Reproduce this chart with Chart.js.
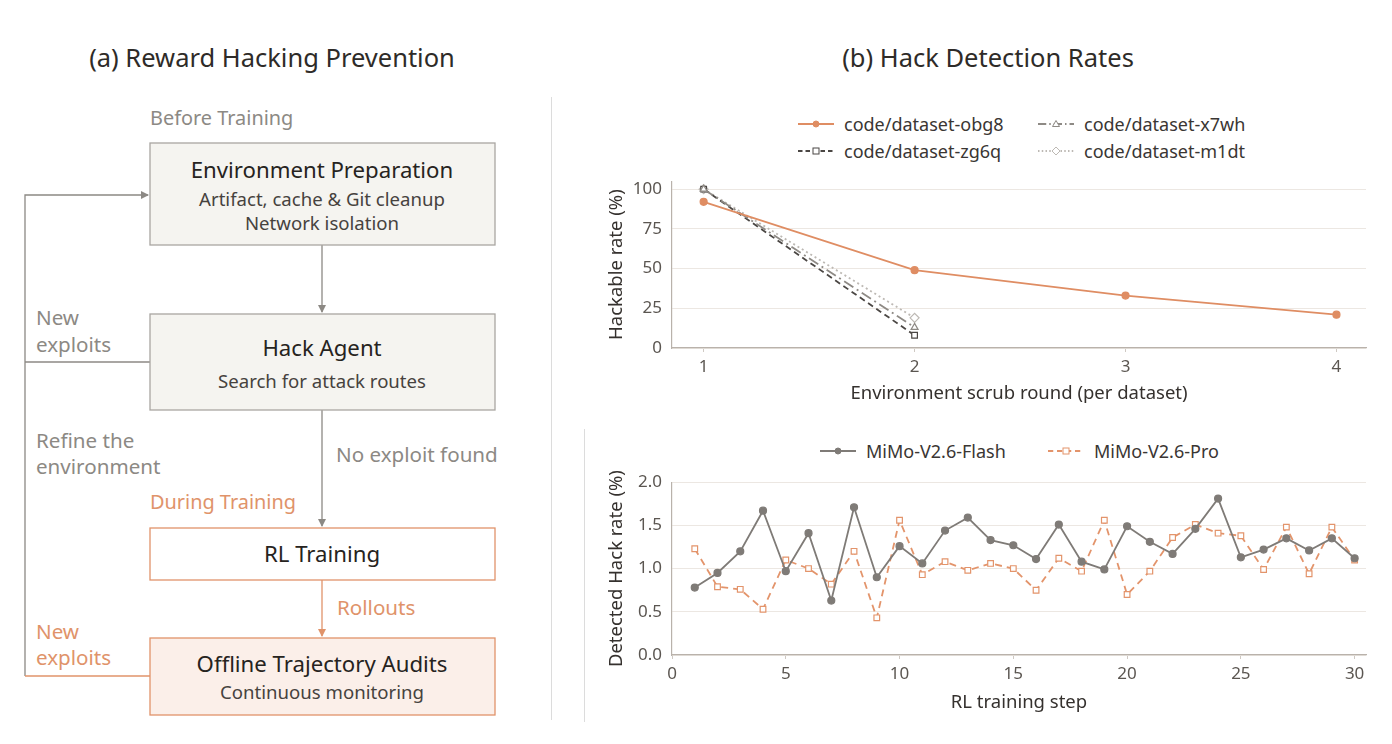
<!DOCTYPE html>
<html>
<head>
<meta charset="utf-8">
<script src="https://cdn.jsdelivr.net/npm/chart.js@4"></script>
<style>
  html, body { margin: 0; padding: 0; background: #fff; }
  body { width: 1392px; height: 744px; position: relative; overflow: hidden; font-family: "Noto Sans", sans-serif; }
  .title { position: absolute; top: 40px; font-size: 25.5px; color: #2e2b28; white-space: nowrap; transform: translateX(-50%); }
  .sep { position: absolute; width: 1px; background: #dcdcdc; }
  .chartbox { position: absolute; }
  .legend { position: absolute; font-size: 18px; color: #3a3633; }
  .legend .item { position: absolute; display: flex; align-items: center; white-space: nowrap; }
  .legend svg { margin-right: 10px; }
</style>
</head>
<body>
<div class="title" style="left:272px">(a) Reward Hacking Prevention</div>
<div class="title" style="left:988px">(b) Hack Detection Rates</div>
<div class="sep" style="left:551px; top:97px; height:623px"></div>
<div class="sep" style="left:584px; top:429px; height:293px"></div>

<!-- 流程图 -->
<svg id="flow" width="550" height="744" style="position:absolute;left:0;top:0" font-family="Noto Sans, sans-serif">
  <defs>
    <marker id="ag" markerWidth="8" markerHeight="8" refX="7" refY="4" orient="auto" markerUnits="userSpaceOnUse">
      <path d="M0,0 L8,4 L0,8 z" fill="#8c8984"/>
    </marker>
    <marker id="ao" markerWidth="8" markerHeight="8" refX="7" refY="4" orient="auto" markerUnits="userSpaceOnUse">
      <path d="M0,0 L8,4 L0,8 z" fill="#e0936a"/>
    </marker>
  </defs>
  <!-- 反馈回路 -->
  <polyline points="150,362 25,362" fill="none" stroke="#8c8984" stroke-width="1.3"/>
  <polyline points="25,676 25,195 148,195" fill="none" stroke="#8c8984" stroke-width="1.3" marker-end="url(#ag)"/>
  <polyline points="150,676 25,676" fill="none" stroke="#e0936a" stroke-width="1.3"/>
  <line x1="322" y1="245" x2="322" y2="312" stroke="#8c8984" stroke-width="1.3" marker-end="url(#ag)"/>
  <line x1="322" y1="410" x2="322" y2="526" stroke="#8c8984" stroke-width="1.3" marker-end="url(#ag)"/>
  <line x1="322" y1="580" x2="322" y2="636" stroke="#e0936a" stroke-width="1.3" marker-end="url(#ao)"/>

  <rect x="150" y="143" width="345" height="102" fill="#f5f4f0" stroke="#a9a6a1" stroke-width="1.3"/>
  <rect x="150" y="314" width="345" height="96" fill="#f5f4f0" stroke="#a9a6a1" stroke-width="1.3"/>
  <rect x="150" y="528" width="345" height="52" fill="#ffffff" stroke="#e0936a" stroke-width="1.3"/>
  <rect x="150" y="638" width="345" height="77" fill="#fbefe9" stroke="#e0936a" stroke-width="1.3"/>

  <g text-anchor="middle" fill="#262320">
    <text x="322" y="178" font-size="22.2">Environment Preparation</text>
    <text x="322" y="206" font-size="18.6" fill="#46423e">Artifact, cache &amp; Git cleanup</text>
    <text x="322" y="230" font-size="18.6" fill="#46423e">Network isolation</text>
    <text x="322" y="356" font-size="22.2">Hack Agent</text>
    <text x="322" y="388" font-size="18.6" fill="#46423e">Search for attack routes</text>
    <text x="322" y="562" font-size="22.2">RL Training</text>
    <text x="322" y="672" font-size="22.2">Offline Trajectory Audits</text>
    <text x="322" y="699" font-size="18.6" fill="#46423e">Continuous monitoring</text>
  </g>
  <g font-size="20.6" fill="#8c8984">
    <text x="150" y="125" font-size="19.9">Before Training</text>
    <text x="36" y="325">New</text>
    <text x="36" y="352">exploits</text>
    <text x="36" y="448">Refine the</text>
    <text x="36" y="474">environment</text>
    <text x="336" y="462">No exploit found</text>
  </g>
  <g font-size="20.6" fill="#e0936a">
    <text x="150" y="509" font-size="19.9">During Training</text>
    <text x="337" y="615">Rollouts</text>
    <text x="36" y="639">New</text>
    <text x="36" y="665">exploits</text>
  </g>
</svg>

<div class="legend" id="legendTop"></div>
<div class="chartbox" style="left:590px; top:161px; width:786px; height:244px;"><canvas id="scrubChart"></canvas></div>
<div class="legend" id="legendBottom"></div>
<div class="chartbox" style="left:590px; top:462px; width:786px; height:252px;"><canvas id="hackChart"></canvas></div>

<script>
// 数据
const scrubRounds = [1, 2, 3, 4];
const obg8 = [92, 49, 33, 21];
const x7wh = [100, 13];
const zg6q = [100, 8];
const m1dt = [100, 19];

const steps = [1, 2, 3, 4, 5, 6, 7, 8, 9, 10, 11, 12, 13, 14, 15, 16, 17, 18, 19, 20, 21, 22, 23, 24, 25, 26, 27, 28, 29, 30];
const flash = [0.78, 0.95, 1.2, 1.67, 0.97, 1.41, 0.63, 1.71, 0.9, 1.26, 1.06, 1.44, 1.59, 1.33, 1.27, 1.11, 1.51, 1.08, 0.99, 1.49, 1.31, 1.17, 1.46, 1.81, 1.13, 1.22, 1.35, 1.21, 1.35, 1.12];
const pro = [1.23, 0.79, 0.76, 0.53, 1.1, 1.0, 0.82, 1.2, 0.43, 1.56, 0.93, 1.08, 0.98, 1.06, 1.0, 0.75, 1.12, 0.97, 1.56, 0.7, 0.97, 1.36, 1.51, 1.41, 1.38, 0.99, 1.48, 0.94, 1.48, 1.1];

const scrubTicks = [1, 2, 3, 4];
const rateTicks = [0, 25, 50, 75, 100];
const stepTicks = [0, 5, 10, 15, 20, 25, 30];
const hackTicks = [0.0, 0.5, 1.0, 1.5, 2.0];

const ORANGE = "#df8d63";
const FONT = "Noto Sans";

function pts(xs, ys) {
  return ys.map((y, i) => ({ x: xs[i], y: y }));
}

const topSets = [
  { label: "code/dataset-obg8", data: pts(scrubRounds, obg8), borderColor: ORANGE, backgroundColor: ORANGE,
    borderDash: [], pointStyle: "circle", pointRadius: 3.5 },
  { label: "code/dataset-x7wh", data: pts(scrubRounds, x7wh), borderColor: "#8e8a85", backgroundColor: "#fff",
    borderDash: [11, 4, 2, 4], pointStyle: "triangle", pointRadius: 4 },
  { label: "code/dataset-zg6q", data: pts(scrubRounds, zg6q), borderColor: "#4b4744", backgroundColor: "#fff",
    borderDash: [6, 4], pointStyle: "rect", pointRadius: 4 },
  { label: "code/dataset-m1dt", data: pts(scrubRounds, m1dt), borderColor: "#bdb9b4", backgroundColor: "#fff",
    borderDash: [2, 3], pointStyle: "rectRot", pointRadius: 4.5 },
];
topSets.forEach(d => { d.borderWidth = 1.8; d.pointBorderColor = d.borderColor; d.pointBackgroundColor = d.backgroundColor; d.pointBorderWidth = 1.2; });

const bottomSets = [
  { label: "MiMo-V2.6-Flash", data: pts(steps, flash), borderColor: "#7f7b77", backgroundColor: "#7f7b77",
    borderDash: [], pointStyle: "circle", pointRadius: 3.5 },
  { label: "MiMo-V2.6-Pro", data: pts(steps, pro), borderColor: "#e3946b", backgroundColor: "#fff",
    borderDash: [7, 5], pointStyle: "rect", pointRadius: 4 },
];
bottomSets.forEach(d => { d.borderWidth = 1.8; d.pointBorderColor = d.borderColor; d.pointBackgroundColor = d.backgroundColor; d.pointBorderWidth = 1.2; });

// 图例
function legendIcon(d) {
  const c = d.borderColor;
  const dash = d.borderDash.length ? 'stroke-dasharray="' + d.borderDash.map(v => v * 0.75).join(" ") + '"' : "";
  let mark = "";
  const fill = d.backgroundColor;
  if (d.pointStyle === "circle") mark = '<circle cx="18" cy="6" r="3" fill="' + fill + '" stroke="' + c + '"/>';
  if (d.pointStyle === "rect") mark = '<rect x="15" y="3" width="6" height="6" fill="' + fill + '" stroke="' + c + '"/>';
  if (d.pointStyle === "triangle") mark = '<path d="M18,2.5 L21.5,8.5 L14.5,8.5 z" fill="' + fill + '" stroke="' + c + '"/>';
  if (d.pointStyle === "rectRot") mark = '<path d="M18,2 L22,6 L18,10 L14,6 z" fill="' + fill + '" stroke="' + c + '"/>';
  return '<svg width="36" height="12"><line x1="0" y1="6" x2="36" y2="6" stroke="' + c + '" stroke-width="1.8" ' + dash + '/>' + mark + '</svg>';
}

function buildLegend(id, sets, places) {
  const box = document.getElementById(id);
  sets.forEach((d, i) => {
    const el = document.createElement("div");
    el.className = "item";
    el.style.left = places[i][0] + "px";
    el.style.top = places[i][1] + "px";
    el.innerHTML = legendIcon(d) + "<span>" + d.label + "</span>";
    box.appendChild(el);
  });
}
buildLegend("legendTop", topSets, [[798, 112], [1038, 112], [798, 139], [1038, 139]]);
buildLegend("legendBottom", bottomSets, [[820, 439], [1048, 439]]);

function axisOpts(min, max, step, ticksList, title, isX, titlePad, fixed) {
  return {
    type: "linear",
    min: min,
    max: max,
    afterBuildTicks: s => { s.ticks = ticksList.map(v => ({ value: v })); },
    afterFit: s => { if (isX) s.height = fixed; else s.width = fixed; },
    border: { color: "#b9b2ab", width: 1.2 },
    grid: isX
      ? { drawOnChartArea: false, drawTicks: true, tickLength: 4, color: "#cfc9c3" }
      : { drawTicks: false, color: "#ece7e2", lineWidth: 1 },
    ticks: {
      color: "#5b5651",
      font: { family: FONT, size: 17 },
      padding: isX ? 5 : 10,
      stepSize: step,
      callback: v => (step < 1 ? v.toFixed(1) : v),
    },
    title: {
      display: true,
      text: title,
      color: "#35312e",
      font: { family: FONT, size: 18.5 },
      padding: titlePad,
    },
  };
}

Chart.defaults.font.family = FONT;

new Chart(document.getElementById("scrubChart").getContext("2d"), {
  type: "line",
  data: { datasets: topSets },
  options: {
    responsive: true,
    maintainAspectRatio: false,
    animation: false,
    layout: { padding: { top: 5, right: 10, left: 0, bottom: 0 } },
    plugins: { legend: { display: false }, tooltip: { enabled: false } },
    scales: {
      x: axisOpts(0.85, 4.14, 1, scrubTicks, "Environment scrub round (per dataset)", true, { top: 0, bottom: 0 }, 57),
      y: axisOpts(0, 105, 25, rateTicks, "Hackable rate (%)", false, { top: 16, bottom: 0 }, 82),
    },
  },
});

new Chart(document.getElementById("hackChart").getContext("2d"), {
  type: "line",
  data: { datasets: bottomSets },
  options: {
    responsive: true,
    maintainAspectRatio: false,
    animation: false,
    layout: { padding: { top: 5, right: 10, left: 0, bottom: 0 } },
    plugins: { legend: { display: false }, tooltip: { enabled: false } },
    scales: {
      x: axisOpts(0, 30.5, 5, stepTicks, "RL training step", true, { top: 0, bottom: 0 }, 59),
      y: axisOpts(0, 2.0, 0.5, hackTicks, "Detected Hack rate (%)", false, { top: 16, bottom: 0 }, 82),
    },
  },
});
</script>
</body>
</html>
